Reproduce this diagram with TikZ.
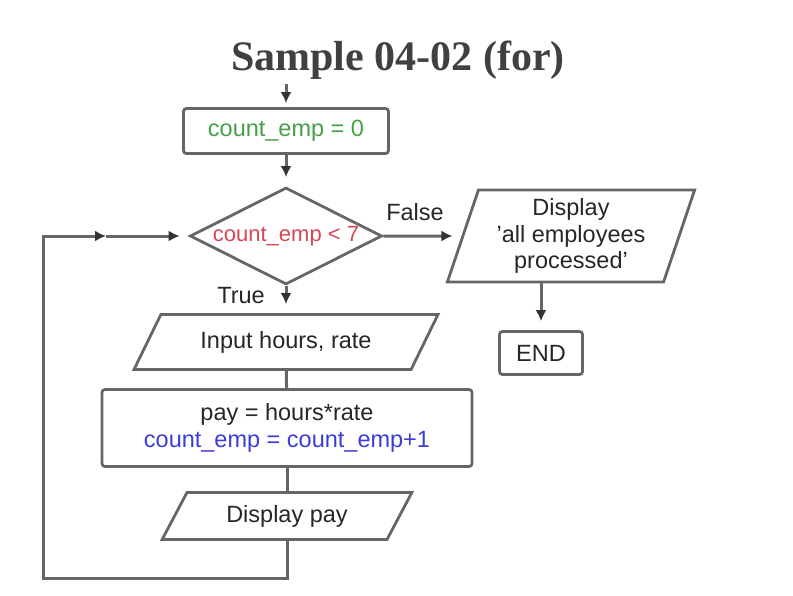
\documentclass[tikz,border=0pt]{standalone}
\usepackage{fontspec}
\setmainfont{Liberation Sans}
\newfontfamily\titlefont{Liberation Serif}
\usetikzlibrary{arrows.meta,shapes.geometric}
\definecolor{initgreen}{RGB}{70,160,70}
\definecolor{condred}{RGB}{215,70,85}
\definecolor{incblue}{RGB}{60,60,215}

\begin{document}
\begin{tikzpicture}[x=1pt,y=-1pt,
  txt/.style={font=\fontsize{23.5}{26.5}\selectfont,text=black!85},
  proc/.style={txt,draw=black!60,line width=2.8pt,rounded corners=3pt,inner sep=2pt,align=center},
  decision/.style={txt,diamond,draw=black!60,line width=2.8pt,aspect=2,inner sep=0pt,minimum width=192pt,minimum height=97pt},
  io/.style={txt,trapezium,trapezium stretches=true,draw=black!60,line width=2.8pt,inner sep=2pt,align=center},
  arr/.style={-{Latex[length=11pt,width=11pt,color=black!80]},line width=3pt,draw=black!60,shorten >=9pt},
  link/.style={line width=3pt,draw=black!60}
]
\useasboundingbox (0,0) rectangle (793,595);
\node[font=\titlefont\bfseries\fontsize{42}{48}\selectfont,text=black!75,anchor=base] (title) at (398,70) {Sample 04-02 (for)};

% main column
\node[proc,minimum width=205pt,minimum height=45pt,text=initgreen] (init) at (286,131) {count\_emp = 0};
\node[decision,font=\fontsize{22}{26}\selectfont,text=condred] (cond) at (286,236) {count\_emp < 7};
\node[io,trapezium left angle=54,trapezium right angle=126,minimum width=305pt,minimum height=55pt] (input) at (286,342) {Input hours, rate};
\node[proc,minimum width=370pt,minimum height=77pt] (calc) at (287,428) {pay = hours*rate\\\textcolor{incblue}{count\_emp = count\_emp+1}};
\node[io,trapezium left angle=59,trapezium right angle=121,minimum width=250pt,minimum height=47pt] (showpay) at (287,516) {Display pay};

% false branch
\node[io,trapezium left angle=72,trapezium right angle=108,minimum width=248pt,minimum height=92pt] (showall) at (571,236) {Display\\'all employees\\processed'};
\node[proc,minimum width=83pt,minimum height=43pt] (finish) at (541,353) {END};

\node[txt] (falselbl) at (415,212) {False};
\node[txt] (truelbl) at (241,296) {True};

\coordinate (entry) at (286,84);
\coordinate (loopcorner) at (43,578);
\coordinate (loopmark) at (106,236);

\draw[arr,shorten >=4pt] (entry) -- (init);
\draw[arr] (init) -- (cond);
\draw[arr] (cond) -- (input);
\draw[link] (input) -- (calc);
\draw[link] (calc) -- (showpay);
\draw[arr,shorten >=0pt] (showpay.south) |- (loopcorner) |- (loopmark);
\draw[arr] (loopmark) -- (cond);
\draw[arr] (cond) -- (showall);
\draw[arr] (finish.north |- showall.south) -- (finish);
\end{tikzpicture}
\end{document}
